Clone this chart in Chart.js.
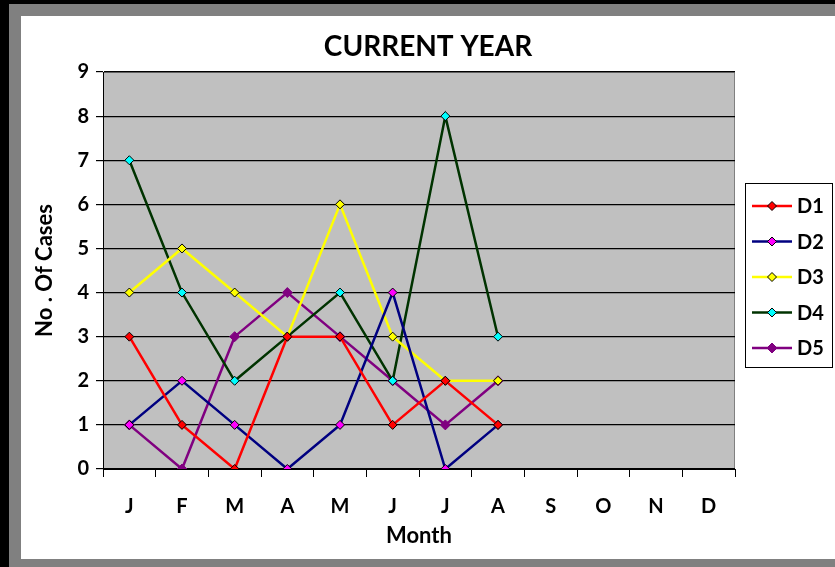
<!DOCTYPE html>
<html>
<head>
<meta charset="utf-8">
<script src="https://cdn.jsdelivr.net/npm/chart.js@4"></script>
<style>
  html, body { margin: 0; padding: 0; }
  body { width: 835px; height: 567px; background: #000; position: relative; overflow: hidden; }
  #frame { position: absolute; left: 9px; top: 4px; right: 0; bottom: 0; background: #808080; }
  #sheet { position: absolute; left: 21px; top: 16px; width: 814px; height: 543px; background: #fff; }
</style>
</head>
<body>
<div id="frame"></div>
<div id="sheet"><canvas id="grafico" width="814" height="543"></canvas></div>
<script>
// dados
const meses = ['J', 'F', 'M', 'A', 'M', 'J', 'J', 'A', 'S', 'O', 'N', 'D'];
const d1 = [3, 1, 0, 3, 3, 1, 2, 1];
const d2 = [1, 2, 1, 0, 1, 4, 0, 1];
const d3 = [4, 5, 4, 3, 6, 3, 2, 2];
const d4 = [7, 4, 2, 3, 4, 2, 8, 3];
const d5 = [1, 0, 3, 4, 3, 2, 1, 2];
const nomes = ['D1', 'D2', 'D3', 'D4', 'D5'];
const yTicks = [0, 1, 2, 3, 4, 5, 6, 7, 8, 9];
const titulo = 'CURRENT YEAR';

const fonte = 'Lato, "Open Sans", sans-serif';

const serie = (label, data, cor, marcador, bordaMarcador, raio) => ({
    label: label,
    data: data,
    borderColor: cor,
    backgroundColor: cor,
    borderWidth: 2.5,
    pointStyle: 'rectRot',
    pointRadius: raio,
    pointHoverRadius: raio,
    pointBackgroundColor: marcador,
    pointBorderColor: bordaMarcador,
    pointBorderWidth: 1,
    tension: 0
});

// fundo cinza da área do gráfico + título centrado na folha
const fundoPlot = {
    id: 'fundoPlot',
    beforeDraw(chart) {
        const { ctx, chartArea: a } = chart;
        ctx.save();
        ctx.fillStyle = '#c0c0c0';
        ctx.fillRect(a.left, a.top, a.right - a.left, a.bottom - a.top);
        ctx.strokeStyle = '#808080';
        ctx.lineWidth = 1;
        ctx.strokeRect(a.left + 0.5, a.top + 0.5, a.right - a.left - 1, a.bottom - a.top);
        ctx.fillStyle = '#000';
        ctx.font = 'bold 28px ' + fonte;
        ctx.textAlign = 'center';
        ctx.textBaseline = 'middle';
        ctx.fillText(titulo, 407, 31);
        ctx.restore();
    }
};

// legenda com linha + losango, dentro de uma caixa
const legendaCaixa = {
    id: 'legendaCaixa',
    afterDraw(chart) {
        const { ctx } = chart;
        const x0 = 724, y0 = 167, w = 88, h = 185;
        ctx.save();
        ctx.fillStyle = '#fff';
        ctx.fillRect(x0, y0, w, h);
        ctx.strokeStyle = '#000';
        ctx.lineWidth = 1;
        ctx.strokeRect(x0 + 0.5, y0 + 0.5, w - 1, h - 1);
        chart.data.datasets.forEach((ds, i) => {
            const y = y0 + 23 + i * 35.5;
            ctx.strokeStyle = ds.borderColor;
            ctx.lineWidth = 2.5;
            ctx.beginPath();
            ctx.moveTo(x0 + 7, y);
            ctx.lineTo(x0 + 47, y);
            ctx.stroke();
            const r = ds.pointRadius;
            ctx.beginPath();
            ctx.moveTo(x0 + 27, y - r);
            ctx.lineTo(x0 + 27 + r, y);
            ctx.lineTo(x0 + 27, y + r);
            ctx.lineTo(x0 + 27 - r, y);
            ctx.closePath();
            ctx.fillStyle = ds.pointBackgroundColor;
            ctx.fill();
            ctx.strokeStyle = ds.pointBorderColor;
            ctx.lineWidth = 1;
            ctx.stroke();
            ctx.fillStyle = '#000';
            ctx.font = 'bold 20px ' + fonte;
            ctx.textBaseline = 'middle';
            ctx.textAlign = 'left';
            ctx.fillText(ds.label, x0 + 52, y + 1);
        });
        ctx.restore();
    }
};

const ctx = document.getElementById('grafico').getContext('2d');
new Chart(ctx, {
    type: 'line',
    data: {
        labels: meses,
        datasets: [
            serie(nomes[0], d1, '#ff0000', '#ff0000', '#000000', 4.5),
            serie(nomes[1], d2, '#000080', '#ff00ff', '#000000', 4.5),
            serie(nomes[2], d3, '#ffff00', '#ffff00', '#000000', 4.5),
            serie(nomes[3], d4, '#003300', '#00ffff', '#000000', 4.5),
            serie(nomes[4], d5, '#800080', '#800080', '#800080', 5)
        ]
    },
    plugins: [fundoPlot, legendaCaixa],
    options: {
        responsive: false,
        animation: false,
        layout: { padding: { left: 0, right: 100, top: 56, bottom: 0 } },
        plugins: {
            legend: { display: false },
            tooltip: { enabled: false },
            title: { display: false }
        },
        scales: {
            x: {
                offset: true,
                grid: { display: true, drawOnChartArea: false, offset: true, tickLength: 8, color: '#000' },
                border: { color: '#000' },
                ticks: { color: '#000', padding: 18, maxRotation: 0, autoSkip: false, font: { family: fonte, size: 20, weight: 'bold' } },
                title: {
                    display: true,
                    text: 'Month',
                    color: '#000',
                    font: { family: fonte, size: 22, weight: 'bold' },
                    padding: { top: 0, bottom: 10 }
                },
                afterFit(scale) { scale.height = 90; }
            },
            y: {
                min: 0,
                max: 9,
                afterBuildTicks(scale) { scale.ticks = yTicks.map(v => ({ value: v })); },
                grid: { color: '#000', tickLength: 7, lineWidth: 1.2 },
                border: { color: '#000' },
                ticks: { color: '#000', padding: 7, font: { family: fonte, size: 20, weight: 'bold' } },
                title: {
                    display: true,
                    text: 'No . Of Cases',
                    color: '#000',
                    font: { family: fonte, size: 22, weight: 'bold' },
                    padding: { top: 11, bottom: 0 }
                },
                afterFit(scale) { scale.width = 82; }
            }
        }
    }
});
</script>
</body>
</html>
